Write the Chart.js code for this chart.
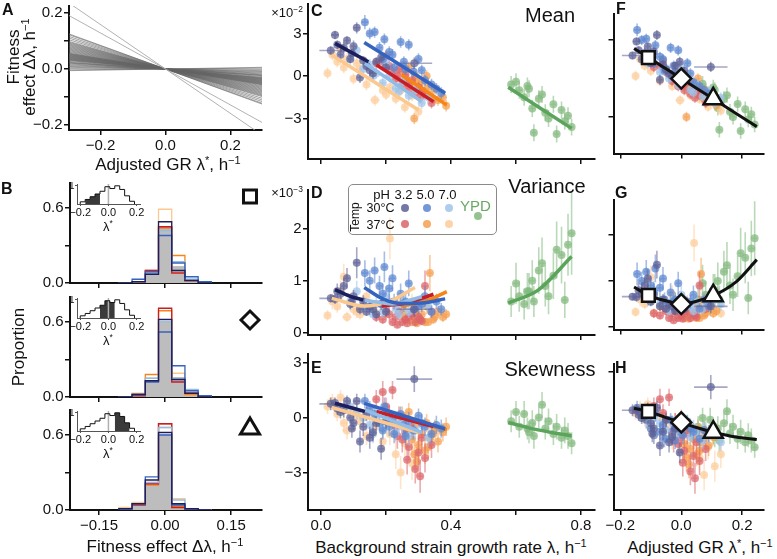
<!DOCTYPE html>
<html>
<head>
<meta charset="utf-8">
<script src="https://cdn.jsdelivr.net/npm/chart.js@4.4.1/dist/chart.umd.min.js"></script>
<style>
  body { margin: 0; background: #fff; }
  #fig { position: relative; width: 777px; height: 559px; overflow: hidden; font-family: 'Liberation Sans', Arial, sans-serif; color: #111; }
  #fig canvas { position: absolute; }
  .c { position: absolute; transform: translate(-50%, -50%); line-height: 1; white-space: nowrap; }
  .r { position: absolute; transform: translate(-50%, -50%) rotate(-90deg); line-height: 1; white-space: nowrap; }
  .p { position: absolute; font-weight: bold; font-size: 16px; line-height: 1; }
  sup { font-size: 65%; line-height: 0; vertical-align: 0.5em; }
  .dot { position: absolute; width: 8px; height: 8px; border-radius: 50%; transform: translate(-50%, -50%); }
</style>
</head>
<body>
<div id="fig">
  <div class="p" style="left:2px;top:2px">A</div>
  <div class="p" style="left:1px;top:181px">B</div>
  <div class="p" style="left:311px;top:3px">C</div>
  <div class="p" style="left:311px;top:185px">D</div>
  <div class="p" style="left:311px;top:360px">E</div>
  <div class="p" style="left:616px;top:1px">F</div>
  <div class="p" style="left:615px;top:185px">G</div>
  <div class="p" style="left:615px;top:360px">H</div>

  <div class="r" style="left:13px;top:57px;font-size:17px">Fitness</div>
  <div class="r" style="left:29px;top:67px;font-size:17px">effect Δλ, h<sup>−1</sup></div>
  <div class="c" style="left:168px;top:164px;font-size:17px">Adjusted GR λ<sup>*</sup>, h<sup>−1</sup></div>
  <div class="r" style="left:18px;top:347px;font-size:17px">Proportion</div>
  <div class="c" style="left:165px;top:546px;font-size:17px">Fitness effect Δλ, h<sup>−1</sup></div>
  <div class="c" style="left:451px;top:547px;font-size:17px">Background strain growth rate λ, h<sup>−1</sup></div>
  <div class="c" style="left:700px;top:547px;font-size:17px">Adjusted GR λ<sup>*</sup>, h<sup>−1</sup></div>

  <div class="c" style="left:108px;top:226px;font-size:13px">λ<sup>*</sup></div>
  <div class="c" style="left:108px;top:340px;font-size:13px">λ<sup>*</sup></div>
  <div class="c" style="left:108px;top:453px;font-size:13px">λ<sup>*</sup></div>

  <div class="c" style="left:550px;top:15px;font-size:20px">Mean</div>
  <div class="c" style="left:547px;top:186px;font-size:20px">Variance</div>
  <div class="c" style="left:550px;top:369px;font-size:20px">Skewness</div>

  <div class="c" style="left:287px;top:12px;font-size:13px">×10<sup>−2</sup></div>
  <div class="c" style="left:287px;top:192px;font-size:13px">×10<sup>−3</sup></div>

  <div id="legend" style="position:absolute;left:348px;top:184px;width:147px;height:49px;border:1.5px solid #8a8a8a;border-radius:5px;"></div>

  <svg style="position:absolute;left:0;top:0" width="777" height="559">
    <rect x="243.5" y="190" width="13" height="13" fill="none" stroke="#111" stroke-width="3"/>
    <polygon points="250,311 259,320 250,329 241,320" fill="none" stroke="#111" stroke-width="3"/>
    <polygon points="250,418 259.5,434 240.5,434" fill="none" stroke="#111" stroke-width="3" stroke-linejoin="miter"/>
  </svg>
</div>

<script>
// ---- panel A: slopes of fitness effect vs adjusted growth rate ----
const slopesA = [-0.79, -0.64, 0.02, 0.01, -0.005, -0.02, -0.03, -0.04, -0.05, -0.06, -0.07, -0.075,
  -0.08, -0.09, -0.1, -0.105, -0.11, -0.115, -0.12, -0.125, -0.13, -0.135, -0.14, -0.145, -0.15,
  -0.155, -0.16, -0.165, -0.17, -0.175, -0.18, -0.185, -0.19, -0.2, -0.21, -0.22, -0.23, -0.24,
  -0.25, -0.26, -0.27, -0.28, -0.29, -0.3, -0.31, -0.32, -0.33, -0.35, -0.37, -0.39, -0.41, -0.42];

// ---- panel B: histograms of fitness effects ----
const edgesB = [-0.105, -0.075, -0.045, -0.015, 0.015, 0.045, 0.075, 0.105];
const grayB = [
  [0.00, 0.01, 0.08, 0.45, 0.13, 0.03, 0.01],
  [0.00, 0.02, 0.13, 0.60, 0.13, 0.03, 0.01],
  [0.01, 0.05, 0.22, 0.60, 0.05, 0.01, 0.00]
];
// order: 30°C pH3.2, 30°C pH5.0, 30°C pH7.0, 37°C pH3.2, 37°C pH5.0, 37°C pH7.0
const condB = [
  [[0, 0.01, 0.07, 0.49, 0.10, 0.02, 0], [0, 0.03, 0.09, 0.38, 0.16, 0.05, 0.01],
   [0, 0.01, 0.08, 0.42, 0.17, 0.03, 0], [0, 0.01, 0.10, 0.45, 0.08, 0.02, 0],
   [0, 0.01, 0.10, 0.44, 0.22, 0.02, 0], [0, 0.01, 0.09, 0.59, 0.08, 0.02, 0]],
  [[0, 0.02, 0.13, 0.62, 0.14, 0.03, 0], [0, 0.02, 0.12, 0.52, 0.25, 0.05, 0.01],
   [0, 0.02, 0.15, 0.60, 0.15, 0.06, 0.01], [0, 0.01, 0.13, 0.71, 0.12, 0.03, 0],
   [0, 0.02, 0.18, 0.69, 0.15, 0.02, 0], [0, 0.03, 0.15, 0.60, 0.19, 0.04, 0]],
  [[0.01, 0.05, 0.24, 0.62, 0.05, 0.01, 0], [0.01, 0.05, 0.265, 0.60, 0.04, 0.01, 0],
   [0.01, 0.05, 0.22, 0.66, 0.08, 0.01, 0], [0.01, 0.04, 0.21, 0.69, 0.02, 0.005, 0],
   [0.01, 0.05, 0.20, 0.69, 0.03, 0.01, 0], [0.02, 0.06, 0.22, 0.66, 0.09, 0.01, 0]]
];
const insetEdges = [-0.2, -0.165, -0.13, -0.095, -0.06, -0.025, 0.01, 0.045, 0.08, 0.115, 0.15, 0.185];
const insetHeights = [0.12, 0.25, 0.4, 0.55, 0.7, 0.95, 0.85, 1.0, 0.8, 0.45, 0.15];
const insetSel = [[-0.165, -0.06], [-0.06, 0.045], [0.045, 0.15]];

// ---- panels C-H: per background strain [λ, λerr, mean, err, var, err, skew, err] ----
const n32 = [
  [0.043,0.012, 2.9,0.3, 0.65,0.10, 0.80,0.30], [0.030,0.035, 1.8,0.3, 0.66,0.08, 0.75,0.35],
  [0.060,0.008, 1.5,0.4, 0.75,0.12, 0.30,0.35], [0.080,0.008, 2.5,0.3, 1.05,0.20, 0.90,0.30],
  [0.070,0.008, 2.0,0.4, 0.90,0.15, 0.40,0.40], [0.090,0.008, 1.2,0.3, 0.55,0.10, 0.00,0.30],
  [0.100,0.008, 2.1,0.4, 0.70,0.12,-0.30,0.40], [0.110,0.010, 3.4,0.4, 1.35,0.30, 0.90,0.40],
  [0.120,0.008,-0.1,0.4, 0.45,0.10,-1.30,0.60], [0.130,0.008, 1.1,0.3, 0.60,0.12,-0.50,0.50],
  [0.140,0.008, 0.7,0.3, 0.40,0.08, 0.20,0.40], [0.150,0.008, 0.4,0.4, 0.50,0.10,-1.10,0.60],
  [0.170,0.008, 1.0,0.3, 0.35,0.08,-0.30,0.40], [0.185,0.008, 1.3,0.4, 0.55,0.12,-1.70,0.60],
  [0.200,0.008, 0.6,0.3, 0.40,0.10,-0.20,0.40], [0.287,0.055, 0.9,0.4, 0.45,0.15, 2.10,0.70],
  [0.050,0.008, 2.2,0.3, 0.80,0.15, 0.50,0.35], [0.095,0.008, 1.6,0.3, 0.60,0.12,-0.60,0.50],
  [0.160,0.008, 0.2,0.4, 0.45,0.10,-0.80,0.50]
];
const b50 = [
  [0.135,0.010, 3.8,0.5, 1.15,0.25, 0.90,0.40], [0.150,0.008, 3.0,0.4, 1.00,0.20, 0.50,0.40],
  [0.165,0.008, 3.1,0.4, 1.20,0.25, 0.20,0.50], [0.180,0.008, 2.0,0.4, 0.90,0.20,-0.30,0.40],
  [0.195,0.008, 2.6,0.4, 1.27,0.30, 0.60,0.50], [0.210,0.008, 1.7,0.4, 0.85,0.20,-0.50,0.50],
  [0.220,0.008, 1.5,0.4, 1.05,0.25,-0.10,0.40], [0.225,0.008, 0.6,0.4, 0.60,0.15,-0.90,0.50],
  [0.245,0.008, 2.4,0.4, 0.75,0.20, 0.20,0.40], [0.255,0.008, 1.0,0.4, 0.55,0.15,-0.40,0.50],
  [0.270,0.008, 2.2,0.4, 0.95,0.25,-0.20,0.50], [0.285,0.008, 0.3,0.4, 0.45,0.12,-0.70,0.50],
  [0.300,0.008, 1.2,0.4, 0.50,0.15, 0.10,0.40], [0.320,0.008,-0.3,0.4, 0.70,0.20,-0.50,0.50],
  [0.340,0.008,-0.6,0.4, 0.40,0.12,-0.90,0.50], [0.370,0.008,-1.2,0.4, 0.45,0.12,-0.60,0.50],
  [0.190,0.008, 1.2,0.4, 0.75,0.20,-0.70,0.50], [0.260,0.008, 0.5,0.4, 0.60,0.15,-1.00,0.50],
  [0.310,0.008, 0.4,0.4, 0.55,0.15,-0.30,0.50], [0.355,0.008,-0.9,0.4, 0.60,0.15,-0.40,0.50]
];
const l70 = [
  [0.090,0.008, 1.2,0.4, 0.60,0.15, 0.60,0.40], [0.110,0.008, 1.8,0.4, 0.80,0.20, 0.30,0.40],
  [0.130,0.008, 0.5,0.4, 0.50,0.12, 0.00,0.40], [0.150,0.008, 0.8,0.4, 0.45,0.12,-0.40,0.50],
  [0.170,0.008, 0.2,0.4, 0.55,0.15, 0.10,0.40], [0.190,0.008,-0.5,0.4, 0.40,0.12,-0.60,0.50],
  [0.200,0.008, 0.9,0.4, 0.70,0.20, 0.20,0.40], [0.210,0.008, 0.0,0.4, 0.60,0.15,-0.20,0.50],
  [0.230,0.008,-0.9,0.4, 0.45,0.12,-0.80,0.50], [0.250,0.008,-0.4,0.4, 0.55,0.15,-0.50,0.50],
  [0.270,0.008,-1.4,0.4, 0.40,0.12,-1.00,0.50], [0.290,0.008,-1.0,0.4, 0.50,0.15,-0.70,0.50],
  [0.310,0.008,-1.9,0.4, 0.60,0.15,-0.40,0.50], [0.330,0.008,-1.5,0.4, 0.50,0.15,-1.10,0.50],
  [0.160,0.008, 0.0,0.4, 0.35,0.10,-0.90,0.50], [0.240,0.008,-1.1,0.4, 0.35,0.10,-0.30,0.50]
];
const r32 = [
  [0.170,0.008, 0.9,0.4, 0.30,0.10, 1.00,0.50], [0.190,0.008, 1.0,0.4, 0.25,0.08, 1.40,0.60],
  [0.200,0.008, 1.4,0.4, 0.45,0.12, 0.60,0.50], [0.210,0.008, 0.7,0.4, 0.35,0.10, 0.20,0.50],
  [0.220,0.008, 0.3,0.4, 0.20,0.08, 1.50,0.50], [0.230,0.008,-0.2,0.4, 0.30,0.10,-0.50,0.60],
  [0.240,0.008, 0.5,0.4, 0.40,0.10, 0.10,0.50], [0.250,0.008,-0.6,0.4, 0.20,0.08,-1.20,0.70],
  [0.260,0.008, 0.1,0.4, 0.25,0.08,-0.80,0.60], [0.270,0.008,-0.9,0.4, 0.30,0.10,-1.60,0.70],
  [0.280,0.008,-0.3,0.4, 0.35,0.10,-0.60,0.60], [0.290,0.008,-1.2,0.4, 0.20,0.08,-2.80,0.80],
  [0.300,0.008,-0.8,0.4, 0.30,0.10,-1.90,0.80], [0.305,0.008,-1.5,0.4, 0.25,0.08,-3.20,0.90],
  [0.320,0.008,-1.3,0.4, 0.90,0.30,-2.20,0.80], [0.340,0.008,-1.9,0.4, 0.40,0.10,-1.50,0.70],
  [0.235,0.008, 0.0,0.4, 0.15,0.06,-1.00,0.70], [0.265,0.008,-0.5,0.4, 0.18,0.06,-2.30,0.80],
  [0.310,0.008,-1.0,0.4, 0.22,0.08,-1.10,0.70]
];
const o50 = [
  [0.250,0.008, 0.3,0.4, 0.35,0.10, 0.10,0.50], [0.260,0.008,-0.1,0.4, 0.25,0.08,-0.60,0.50],
  [0.270,0.008, 0.6,0.4, 0.30,0.10, 0.30,0.50], [0.280,0.008,-0.5,0.4, 0.20,0.08,-1.20,0.60],
  [0.287,0.008,-3.0,0.4, 0.30,0.10,-2.00,0.80], [0.290,0.008, 0.0,0.4, 0.40,0.12,-0.40,0.50],
  [0.300,0.008,-0.8,0.4, 0.25,0.08,-1.50,0.70], [0.310,0.008,-0.4,0.4, 0.35,0.10,-0.90,0.60],
  [0.320,0.008,-1.1,0.4, 0.20,0.08,-1.80,0.70], [0.325,0.008, 0.0,0.4, 0.50,0.15,-0.30,0.50],
  [0.335,0.008,-1.3,0.4, 1.15,0.35,-1.10,0.60], [0.350,0.008,-0.9,0.4, 0.30,0.10,-0.60,0.50],
  [0.360,0.008,-1.7,0.4, 0.40,0.12,-1.30,0.60], [0.375,0.008,-1.5,0.4, 0.30,0.10,-0.80,0.50],
  [0.385,0.008,-2.1,0.4, 0.35,0.10,-0.50,0.50], [0.295,0.008,-0.3,0.4, 0.18,0.06,-2.40,0.80],
  [0.330,0.008,-0.7,0.4, 0.20,0.06,-1.60,0.70], [0.345,0.008,-1.6,0.4, 0.25,0.08,-0.90,0.60]
];
const p70 = [
  [0.020,0.008, 0.2,0.4, 0.33,0.10, 0.60,0.40], [0.035,0.008, 1.5,0.4, 0.60,0.15, 0.90,0.40],
  [0.050,0.008, 1.0,0.4, 0.50,0.12, 0.20,0.40], [0.060,0.008, 1.9,0.4, 0.80,0.20, 1.10,0.40],
  [0.070,0.008, 0.6,0.4, 1.08,0.25,-0.30,0.50], [0.080,0.015, 1.2,0.4, 0.30,0.10,-0.70,0.50],
  [0.100,0.008,-0.2,0.4, 0.45,0.12, 0.40,0.40], [0.120,0.008, 0.5,0.4, 0.35,0.10,-0.20,0.50],
  [0.140,0.008,-0.6,0.4, 0.70,0.20,-1.00,0.50], [0.166,0.015,-1.7,0.4, 0.40,0.12,-0.50,0.50],
  [0.190,0.008,-1.0,0.4, 0.55,0.15,-1.30,0.60], [0.212,0.008,-0.8,0.4, 1.82,0.40,-0.90,0.60],
  [0.230,0.008,-1.6,0.4, 0.50,0.15,-2.00,0.80], [0.258,0.008,-2.2,0.4, 0.45,0.12,-1.40,0.70],
  [0.280,0.008,-1.4,0.4, 0.60,0.15,-2.50,0.90], [0.300,0.008,-2.5,0.4, 0.30,0.10,-1.80,0.80],
  [0.110,0.008, 0.9,0.4, 0.40,0.12, 0.10,0.40], [0.200,0.008,-1.3,0.4, 0.35,0.10,-0.20,0.50],
  [0.245,0.008,-1.0,0.4, 0.60,0.15,-3.00,0.90]
];
const ypd = [
  [0.585,0.008,-0.6,0.6, 0.60,0.30,-0.20,0.60], [0.600,0.008,-0.4,0.6, 0.95,0.40, 0.30,0.60],
  [0.610,0.008,-1.0,0.6, 0.70,0.30,-0.50,0.60], [0.625,0.008,-1.5,0.6, 0.55,0.30, 0.20,0.70],
  [0.635,0.008,-0.7,0.6, 0.80,0.35,-0.60,0.60], [0.640,0.008,-0.9,0.6, 0.80,0.35,-0.80,0.60],
  [0.650,0.008,-2.3,0.6, 1.00,0.40,-0.30,0.70], [0.655,0.008,-4.0,0.6, 0.60,0.30,-1.00,0.70],
  [0.670,0.008,-1.6,0.6, 1.20,0.45, 0.00,0.60], [0.680,0.008,-1.3,0.6, 1.34,0.50, 0.70,0.70],
  [0.690,0.008,-2.6,0.6, 0.90,0.40,-0.60,0.60], [0.700,0.008,-3.0,0.6, 0.70,0.35,-0.20,0.70],
  [0.715,0.008,-2.0,0.6, 1.10,0.45,-0.90,0.60], [0.725,0.008,-4.1,0.6, 1.60,0.55,-0.50,0.70],
  [0.740,0.008,-2.4,0.6, 1.50,0.55,-1.10,0.60], [0.750,0.008,-3.2,0.6, 0.63,0.35,-0.70,0.70],
  [0.760,0.008,-2.8,0.6, 1.70,0.60,-1.00,0.70], [0.771,0.008,-3.6,0.6, 1.92,0.80,-1.40,0.60]
];
const conditions = [n32, b50, l70, r32, o50, p70, ypd];
// shift of each condition's λ onto the adjusted growth-rate axis λ*
const adjOffset = [0.19, 0.28, 0.20, 0.26, 0.27, 0.17, 0.53];

// per-condition fits [λ, value]
const fitMean = [
  [[0.043, 2.3], [0.146, 1.0]], [[0.133, 2.37], [0.382, -1.22]], [[0.135, 0.9], [0.31, -1.81]],
  [[0.171, 0.78], [0.346, -1.81]], [[0.248, 0.07], [0.387, -2.05]], [[0.033, 1.48], [0.3, -2.4]],
  [[0.576, -0.8], [0.771, -3.7]]
];
const fitVar = [
  [[0.043, 0.83], [0.09, 0.7], [0.13, 0.63]],
  [[0.133, 0.87], [0.19, 0.65], [0.246, 0.56], [0.31, 0.57], [0.382, 0.65]],
  [[0.135, 0.63], [0.22, 0.55], [0.31, 0.69]],
  [[0.187, 0.51], [0.27, 0.58], [0.346, 0.74]],
  [[0.246, 0.51], [0.32, 0.6], [0.387, 0.79]],
  [[0.033, 0.66], [0.135, 0.51], [0.21, 0.6], [0.289, 0.87]],
  [[0.576, 0.57], [0.668, 0.82], [0.771, 1.47]]
];
const fitSkew = [
  [[0.043, 0.78], [0.135, 0.33]], [[0.133, 0.78], [0.382, -0.62]], [[0.135, 0.42], [0.31, -0.8]],
  [[0.171, 0.33], [0.346, -0.49]], [[0.248, 0.05], [0.387, -0.67]], [[0.033, 0.55], [0.3, -0.8]],
  [[0.576, -0.27], [0.668, -0.67], [0.771, -1.0]]
];

// pooled fit on adjusted growth rate, with the three λ* groups of panel B
const adjX = [-0.155, -0.108, -0.05, 0, 0.05, 0.105, 0.18, 0.248];
const adjMean = [2.35, 1.64, 0.76, 0, -0.76, -1.59, -2.73, -3.76];
const adjVar = [0.87, 0.69, 0.57, 0.5, 0.56, 0.68, 0.98, 1.46];
const adjSkew = [0.87, 0.69, 0.33, 0.05, -0.25, -0.52, -0.8, -0.94];
const grpX = [-0.108, 0, 0.105];
const grpMean = [1.64, 0, -1.59];
const grpVar = [0.69, 0.5, 0.68];
const grpSkew = [0.69, 0.05, -0.52];
const grpShape = ['rect', 'rectRot', 'triangle'];

const condNames = ['30°C pH 3.2', '30°C pH 5.0', '30°C pH 7.0', '37°C pH 3.2', '37°C pH 5.0', '37°C pH 7.0', 'YPD'];
const dotRGB = ['92,96,150', '92,134,208', '160,196,234', '220,100,105', '245,160,80', '253,205,155', '130,185,125'];
const lineCol = ['#1c1f5c', '#3463c0', '#90bce6', '#c81d25', '#f58518', '#fbc88f', '#5ba45b'];

const FONT = "'Liberation Sans', Arial, sans-serif";
Chart.defaults.font.family = FONT;
const fig = document.getElementById('fig');

const errorBars = {
  id: 'errorBars',
  beforeDatasetDraw(chart, args) {
    const ds = chart.data.datasets[args.index];
    if (!ds.errColor) return;
    const {ctx, chartArea: a} = chart;
    const x = chart.scales.x, y = chart.scales.y;
    ctx.save();
    ctx.beginPath();
    ctx.rect(a.left, a.top, a.right - a.left, a.bottom - a.top);
    ctx.clip();
    ctx.strokeStyle = ds.errColor;
    ctx.lineWidth = 1.6;
    ds.data.forEach(p => {
      const px = x.getPixelForValue(p.x), py = y.getPixelForValue(p.y);
      ctx.beginPath();
      ctx.moveTo(x.getPixelForValue(p.x - p.xe), py);
      ctx.lineTo(x.getPixelForValue(p.x + p.xe), py);
      ctx.moveTo(px, y.getPixelForValue(p.y - p.ye));
      ctx.lineTo(px, y.getPixelForValue(p.y + p.ye));
      ctx.stroke();
    });
    ctx.restore();
  }
};
Chart.register(errorBars);

function axis(min, max, ticks, labels, o) {
  return {
    type: 'linear', min: min, max: max,
    afterBuildTicks: s => { s.ticks = ticks.map(v => ({value: v})); },
    ticks: {
      callback: (v, i) => labels[i], color: '#111', padding: o.pad ?? 1.5,
      font: {family: FONT, size: o.font || 15}, autoSkip: false, maxRotation: 0, minRotation: 0
    },
    grid: {drawOnChartArea: false, drawTicks: true, tickLength: o.tl || 5, color: o.col || '#111', lineWidth: o.tw || 1.5},
    border: {display: true, color: o.col || '#111', width: o.bw || 2}
  };
}

function panel(area, yw, xh, tp, rp, xAxis, yAxis, datasets) {
  const c = document.createElement('canvas');
  c.width = area.R - area.L + yw + rp;
  c.height = area.B - area.T + tp + xh;
  c.style.left = (area.L - yw) + 'px';
  c.style.top = (area.T - tp) + 'px';
  fig.insertBefore(c, fig.firstChild);
  xAxis.afterFit = (s => { s.height = xh; s.paddingLeft = s.paddingRight = s.paddingTop = s.paddingBottom = 0; });
  yAxis.afterFit = (s => { s.width = yw; s.paddingLeft = s.paddingRight = s.paddingTop = s.paddingBottom = 0; });
  return new Chart(c.getContext('2d'), {
    type: 'line',
    data: {datasets: datasets},
    options: {
      responsive: false, animation: false, events: [],
      layout: {padding: {top: tp, right: rp, left: 0, bottom: 0}},
      plugins: {legend: {display: false}, tooltip: {enabled: false}},
      scales: {x: xAxis, y: yAxis}
    }
  });
}

function stepPts(edges, h) {
  const p = [{x: edges[0], y: 0}];
  h.forEach((v, i) => p.push({x: edges[i], y: v}));
  p.push({x: edges[edges.length - 1], y: h[h.length - 1]});
  p.push({x: edges[edges.length - 1], y: 0});
  return p;
}

// ---- A ----
const setsA = slopesA.map(s => ({
  data: [{x: -0.297, y: -0.297 * s}, {x: 0.297, y: 0.297 * s}],
  pointRadius: 0, borderWidth: 1,
  borderColor: Math.abs(s) > 0.5 ? 'rgba(170,170,170,0.9)' : 'rgba(100,100,100,0.6)'
}));
panel({L: 69, T: 6, R: 262, B: 130}, 69, 22, 6, 6,
  axis(-0.297, 0.297, [-0.2, 0, 0.2], ['−0.2', '0.0', '0.2'], {}),
  axis(-0.217, 0.224, [-0.2, -0.1, 0, 0.1, 0.2], ['−0.2', '', '0.0', '', '0.2'], {}),
  setsA);

// ---- B ----
const bTops = [183, 297, 410];
bTops.forEach((T, k) => {
  const sets = condB[k].map((h, j) => ({
    data: stepPts(edgesB, h), stepped: 'before', pointRadius: 0, borderWidth: 1.3,
    borderColor: lineCol[j], fill: false
  }));
  sets.push({data: stepPts(edgesB, grayB[k]), stepped: 'before', pointRadius: 0, borderWidth: 1,
    borderColor: '#b0b0b0', backgroundColor: '#bdbdbd', fill: 'origin'});
  const last = k === 2;
  panel({L: 70, T: T, R: 262, B: T + 100}, 45, last ? 22 : 8, 4, 6,
    axis(-0.216, 0.22, [-0.15, 0, 0.15], last ? ['−0.15', '0.00', '0.15'] : ['', '', ''], {}),
    axis(0, 0.8, [0, 0.3, 0.6], ['0.0', '', '0.6'], {}),
    sets);
});

// insets: λ* distribution with the selected group shaded
bTops.forEach((T, k) => {
  const [lo, hi] = insetSel[k];
  const idx = insetHeights.map((h, i) => i).filter(i => insetEdges[i] >= lo - 1e-9 && insetEdges[i + 1] <= hi + 1e-9);
  const selE = insetEdges.slice(idx[0], idx[idx.length - 1] + 2);
  const selH = idx.map(i => insetHeights[i]);
  const sets = [
    {data: stepPts(insetEdges, insetHeights), stepped: 'before', pointRadius: 0, borderWidth: 1, borderColor: '#111', fill: false},
    {data: [{x: 0, y: 0}, {x: 0, y: 1.1}], pointRadius: 0, borderWidth: 1.5, borderColor: '#b0b0b0'},
    {data: stepPts(selE, selH), stepped: 'before', pointRadius: 0, borderWidth: 0, backgroundColor: '#3a3a3a', fill: 'origin'}
  ];
  panel({L: 77, T: T + 1, R: 140, B: T + 21}, 10, 14, 2, 4,
    axis(-0.223, 0.224, [-0.2, 0, 0.2], ['−0.2', '0.0', '0.2'], {font: 11, tl: 2, pad: 0, bw: 1, tw: 1, col: '#555'}),
    axis(0, 1.1, [1], ['1'], {font: 10, tl: 2, pad: 0.5, bw: 1, tw: 1, col: '#555'}),
    sets);
});

// ---- C-H ----
function pointSets(vi, ei, shift) {
  return conditions.map((rows, k) => ({
    data: rows.map(r => ({x: shift ? r[0] - adjOffset[k] : r[0], y: r[vi], xe: r[1], ye: r[ei]})),
    showLine: false, pointRadius: 4, pointBorderWidth: 0,
    pointBackgroundColor: 'rgba(' + dotRGB[k] + ',0.72)', errColor: 'rgba(' + dotRGB[k] + ',0.55)'
  }));
}
function fitSets(fits) {
  return fits.map((f, k) => ({
    data: f.map(p => ({x: p[0], y: p[1]})), pointRadius: 0, borderWidth: 3.5,
    borderColor: lineCol[k], cubicInterpolationMode: 'monotone'
  }));
}
function adjSets(ys, gys) {
  return [
    {data: grpX.map((x, i) => ({x: x, y: gys[i]})), showLine: false, pointStyle: grpShape,
     pointRadius: [9, 10, 11], pointBackgroundColor: '#fff', pointBorderColor: '#111', pointBorderWidth: 2.5},
    {data: adjX.map((x, i) => ({x: x, y: ys[i]})), pointRadius: 0, borderWidth: 3, borderColor: '#111',
     cubicInterpolationMode: 'monotone'}
  ];
}

const xTicksC = [0, 0.2, 0.4, 0.6, 0.8];
const rows = [
  {T: 4, B: 159, min: -5.86, max: 5.08, ticks: [-3, 0, 3], labels: ['−3', '0', '3'], vi: 2, ei: 3, fit: fitMean, adj: adjMean, grp: grpMean},
  {T: 190, B: 335, min: -0.05, max: 2.76, ticks: [0, 1, 2], labels: ['0', '1', '2'], vi: 4, ei: 5, fit: fitVar, adj: adjVar, grp: grpVar},
  {T: 354, B: 510, min: -5.04, max: 3.47, ticks: [-3, 0, 3], labels: ['−3', '0', '3'], vi: 6, ei: 7, fit: fitSkew, adj: adjSkew, grp: grpSkew}
];
rows.forEach((r, k) => {
  const last = k === 2;
  panel({L: 308, T: r.T, R: 595, B: r.B}, 40, last ? 22 : 8, 4, 4,
    axis(-0.04, 0.843, xTicksC, last ? ['0.0', '', '0.4', '', '0.8'] : ['', '', '', '', ''], {}),
    axis(r.min, r.max, r.ticks, r.labels, {}),
    fitSets(r.fit).concat(pointSets(r.vi, r.ei, false)));
  panel({L: 612, T: r.T, R: 772, B: r.B}, 12, last ? 22 : 8, 4, 5,
    axis(-0.2225, 0.27, [-0.2, 0, 0.2], last ? ['−0.2', '0.0', '0.2'] : ['', '', ''], {}),
    axis(r.min, r.max, r.ticks, ['', '', ''], {}),
    adjSets(r.adj, r.grp).concat(pointSets(r.vi, r.ei, true)));
});

// ---- legend inside D ----
const lg = document.getElementById('legend');
const LX = 349.5, LY = 185.5;  // inner corner of the legend box
function lgText(txt, cx, cy, size, color, rot) {
  const d = document.createElement('div');
  d.className = rot ? 'r' : 'c';
  d.style.left = (cx - LX) + 'px'; d.style.top = (cy - LY) + 'px';
  d.style.fontSize = size + 'px';
  if (color) d.style.color = color;
  d.innerHTML = txt;
  lg.appendChild(d);
}
function lgDot(k, cx, cy) {
  const d = document.createElement('div');
  d.className = 'dot';
  d.style.left = (cx - LX) + 'px'; d.style.top = (cy - LY) + 'px';
  d.style.background = 'rgba(' + dotRGB[k] + ',0.85)';
  lg.appendChild(d);
}
lgText('pH', 382, 194, 13);
['3.2', '5.0', '7.0'].forEach((t, i) => lgText(t, 404 + i * 22, 194, 13));
lgText('Temp', 355, 217, 12, null, true);
lgText('30°C', 381, 208, 12.5);
lgText('37°C', 381, 225, 12.5);
[0, 1, 2].forEach(i => lgDot(i, 405 + i * 22, 208.5));
[3, 4, 5].forEach((k, i) => lgDot(k, 405 + i * 22, 224));
lgText('YPD', 476, 205, 15, '#6aa865');
lgDot(6, 478, 216);
</script>
</body>
</html>
